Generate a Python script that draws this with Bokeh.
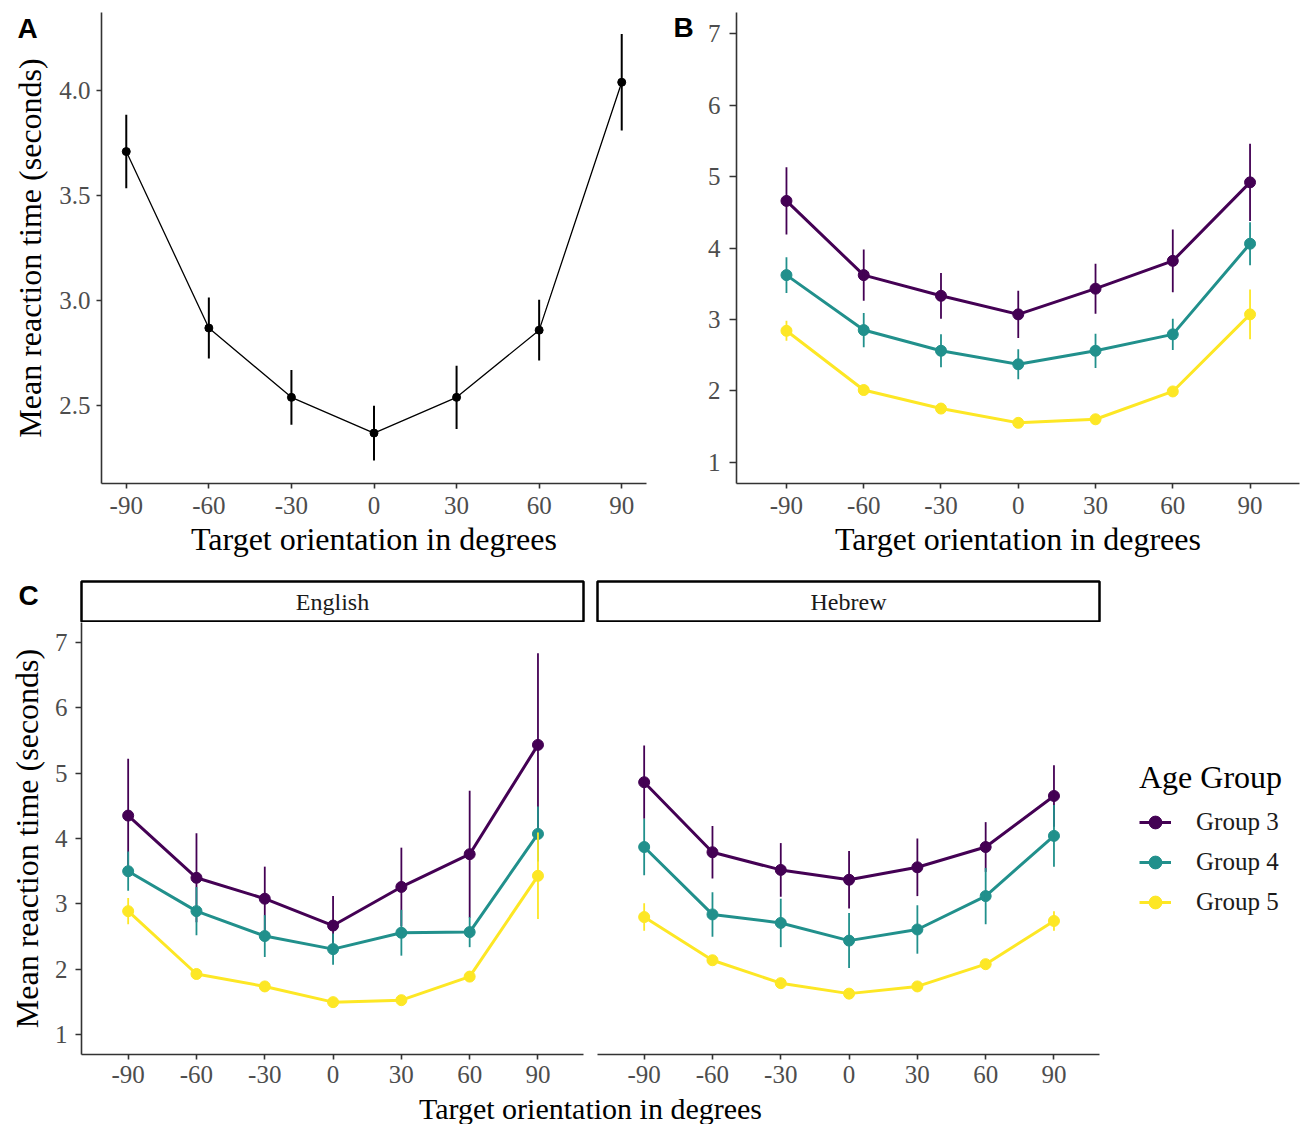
import numpy as np
from bokeh.plotting import figure
from bokeh.layouts import row, column
from bokeh.models import (Range1d, FixedTicker, NumeralTickFormatter, Label,
                          Legend, LegendItem, ColumnDataSource)
from bokeh.embed import file_html
from bokeh.resources import INLINE

# ---------------- data ----------------
orientations = [-90, -60, -30, 0, 30, 60, 90]
groups = ["Group 3", "Group 4", "Group 5"]
group_colors = ["#440154", "#21908C", "#FDE725"]

a_yticks = [2.5, 3.0, 3.5, 4.0]
bc_yticks = [1, 2, 3, 4, 5, 6, 7]

# Panel A: all participants
a_mean = [3.71, 2.87, 2.54, 2.37, 2.54, 2.86, 4.04]
a_err = [0.175, 0.145, 0.13, 0.13, 0.15, 0.145, 0.23]

# Panel B: by age group
b_g3_mean = [4.66, 3.62, 3.33, 3.07, 3.43, 3.82, 4.92]
b_g3_err = [0.47, 0.36, 0.32, 0.33, 0.35, 0.44, 0.54]
b_g4_mean = [3.62, 2.85, 2.56, 2.37, 2.56, 2.79, 4.06]
b_g4_err = [0.25, 0.24, 0.23, 0.21, 0.24, 0.22, 0.30]
b_g5_mean = [2.84, 2.01, 1.75, 1.55, 1.60, 1.99, 3.07]
b_g5_err = [0.14, 0.05, 0.05, 0.04, 0.04, 0.06, 0.35]

# Panel C: English
en_g3_mean = [4.35, 3.40, 3.08, 2.67, 3.26, 3.76, 5.43]
en_g3_err = [0.87, 0.68, 0.49, 0.45, 0.60, 0.97, 1.40]
en_g4_mean = [3.50, 2.89, 2.51, 2.31, 2.56, 2.57, 4.07]
en_g4_err = [0.30, 0.37, 0.32, 0.24, 0.35, 0.23, 0.42]
en_g5_mean = [2.89, 1.93, 1.74, 1.50, 1.53, 1.89, 3.43]
en_g5_err = [0.20, 0.07, 0.08, 0.05, 0.05, 0.08, 0.66]

# Panel C: Hebrew
he_g3_mean = [4.86, 3.79, 3.52, 3.37, 3.56, 3.87, 4.65]
he_g3_err = [0.56, 0.40, 0.41, 0.44, 0.44, 0.38, 0.47]
he_g4_mean = [3.87, 2.84, 2.71, 2.44, 2.61, 3.12, 4.04]
he_g4_err = [0.43, 0.34, 0.37, 0.42, 0.37, 0.43, 0.47]
he_g5_mean = [2.80, 2.14, 1.79, 1.63, 1.74, 2.08, 2.74]
he_g5_err = [0.21, 0.05, 0.06, 0.04, 0.05, 0.07, 0.15]

x_title = "Target orientation in degrees"
y_title = "Mean reaction time (seconds)"

SERIF = "Liberation Serif"
SANS = "Liberation Sans"
AX = "#333333"
TICKLAB = "#4d4d4d"


def make_src(mean, err):
    m = np.array(mean, dtype=float)
    e = np.array(err, dtype=float)
    return ColumnDataSource(dict(x=orientations, y=m, lo=m - e, hi=m + e))


def blank_fig(width, height):
    f = figure(width=width, height=height, x_range=Range1d(0, 1), y_range=Range1d(0, 1),
               output_backend="svg", toolbar_location=None, tools="",
               x_axis_location=None, y_axis_location=None,
               min_border_left=0, min_border_right=0, min_border_top=0, min_border_bottom=0)
    f.xgrid.visible = False
    f.ygrid.visible = False
    f.outline_line_color = None
    f.background_fill_color = "white"
    f.border_fill_color = "white"
    return f


def base_fig(width, height, xr, yr, mbl, mbr, mbt, mbb, show_y=True):
    p = figure(width=width, height=height, x_range=Range1d(*xr), y_range=Range1d(*yr),
               output_backend="svg", toolbar_location=None, tools="",
               min_border_left=mbl, min_border_right=mbr,
               min_border_top=mbt, min_border_bottom=mbb,
               y_axis_location="left" if show_y else None)
    p.xgrid.visible = False
    p.ygrid.visible = False
    p.outline_line_color = None
    p.background_fill_color = "white"
    p.border_fill_color = "white"
    for ax in p.axis:
        ax.axis_line_color = AX
        ax.axis_line_width = 1.6
        ax.major_tick_line_color = AX
        ax.major_tick_line_width = 1.6
        ax.major_tick_out = 5
        ax.major_tick_in = 0
        ax.minor_tick_line_color = None
        ax.major_label_text_font = SERIF
        ax.major_label_text_font_size = "25px"
        ax.major_label_text_color = TICKLAB
        ax.axis_label_text_font = SERIF
        ax.axis_label_text_font_size = "32px"
        ax.axis_label_text_font_style = "normal"
        ax.axis_label_text_color = "black"
    p.xaxis.ticker = FixedTicker(ticks=orientations)
    p.xaxis.formatter = NumeralTickFormatter(format="0")
    p.xaxis.major_label_standoff = 8
    p.xaxis.axis_label_standoff = 4
    return p


def letter(f, text, x, y):
    f.add_layout(Label(x=x, y=y, x_units="screen", y_units="screen", text=text,
                       text_font=SANS, text_font_style="bold", text_font_size="28px",
                       text_color="black", text_baseline="middle"))


def draw_groups(p, means, errs):
    srcs = [make_src(m, e) for m, e in zip(means, errs)]
    for src, c in zip(srcs, group_colors):
        p.line("x", "y", source=src, line_color=c, line_width=3)
    for src, c in zip(srcs, group_colors):
        p.scatter("x", "y", source=src, size=11, fill_color=c, line_color=c)
        p.segment(x0="x", y0="lo", x1="x", y1="hi", source=src, line_color=c, line_width=1.8)


# ---------------- Row 1 : panels A and B ----------------
# (the blank side figures get their frame aligned with the neighbouring plot: 12..483)
leftA = blank_fig(50, 560)
letter(leftA, "A", 17, 455)
leftA.add_layout(Label(x=29, y=235.5, x_units="screen", y_units="screen", text=y_title,
                       angle=90, angle_units="deg", text_align="center", text_baseline="middle",
                       text_font=SERIF, text_font_size="32px", text_color="black"))

pA = base_fig(614, 560, (-99, 99), (2.13, 4.372), 51, 18, 12, 77)
pA.xaxis.axis_label = x_title
pA.yaxis.ticker = FixedTicker(ticks=a_yticks)
pA.yaxis.formatter = NumeralTickFormatter(format="0.0")
pA.yaxis.major_label_standoff = 6
srcA = make_src(a_mean, a_err)
pA.line("x", "y", source=srcA, line_color="black", line_width=1.3)
pA.segment(x0="x", y0="lo", x1="x", y1="hi", source=srcA, line_color="black", line_width=2)
pA.scatter("x", "y", source=srcA, size=8, fill_color="black", line_color="black")

leftB = blank_fig(36, 560)
letter(leftB, "B", 9, 456)

pB = base_fig(609, 560, (-109.4, 109.2), (0.7, 7.3), 36, 10, 12, 77)
pB.xaxis.axis_label = x_title
pB.yaxis.ticker = FixedTicker(ticks=bc_yticks)
pB.yaxis.formatter = NumeralTickFormatter(format="0")
pB.yaxis.major_tick_out = 7
pB.yaxis.major_label_standoff = 9
draw_groups(pB, [b_g3_mean, b_g4_mean, b_g5_mean], [b_g3_err, b_g4_err, b_g5_err])


# ---------------- Row 2 : panel C ----------------
def strip_fig(width, mbl, mbr, text):
    s = figure(width=width, height=62, x_range=Range1d(0, 1), y_range=Range1d(0, 1),
               output_backend="svg", toolbar_location=None, tools="",
               x_axis_location=None, y_axis_location=None,
               min_border_left=mbl, min_border_right=mbr, min_border_top=21, min_border_bottom=1)
    s.xgrid.visible = False
    s.ygrid.visible = False
    s.outline_line_color = "black"
    s.outline_line_width = 2.5
    s.background_fill_color = "white"
    s.border_fill_color = "white"
    s.add_layout(Label(x=251, y=20, x_units="screen", y_units="screen", text=text,
                       text_align="center", text_baseline="middle", text_font=SERIF,
                       text_font_size="24px", text_color="#1a1a1a"))
    return s


letterC = blank_fig(79, 62)
letter(letterC, "C", 18, 26)
sE = strip_fig(511, 2, 7, "English")
sH = strip_fig(516, 7, 7, "Hebrew")

pE = base_fig(590, 469, (-110.5, 110), (0.7, 7.3), 81, 7, 0, 37)
pE.yaxis.axis_label = y_title
pE.yaxis.ticker = FixedTicker(ticks=bc_yticks)
pE.yaxis.formatter = NumeralTickFormatter(format="0")
pE.yaxis.major_tick_out = 6
pE.yaxis.major_label_standoff = 8
pE.yaxis.axis_label_standoff = 7
pE.xaxis.major_label_standoff = 6
draw_groups(pE, [en_g3_mean, en_g4_mean, en_g5_mean], [en_g3_err, en_g4_err, en_g5_err])

pH = base_fig(516, 469, (-110.5, 110), (0.7, 7.3), 7, 7, 0, 37, show_y=False)
pH.xaxis.major_label_standoff = 6
draw_groups(pH, [he_g3_mean, he_g4_mean, he_g5_mean], [he_g3_err, he_g4_err, he_g5_err])

# shared x title for panel C
tfig = blank_fig(1106, 33)
tfig.add_layout(Label(x=590, y=16.5, x_units="screen", y_units="screen", text=x_title,
                      text_align="center", text_baseline="middle", text_font=SERIF,
                      text_font_size="30px", text_color="black"))

# ---------------- legend ----------------
leg = blank_fig(203, 564)
items = []
for g, c in zip(groups, group_colors):
    rl = leg.line(x=[np.nan], y=[np.nan], line_color=c, line_width=3)
    rp = leg.scatter(x=[np.nan], y=[np.nan], size=11, fill_color=c, line_color=c)
    items.append(LegendItem(label=g, renderers=[rl, rp]))
legend = Legend(items=items, location=(33, 202), title="Age Group",
                title_text_font=SERIF, title_text_font_size="32px",
                title_text_font_style="normal", title_text_color="black",
                title_standoff=6,
                label_text_font=SERIF, label_text_font_size="25px", label_text_color="#1a1a1a",
                glyph_width=32, glyph_height=40, label_height=40, label_standoff=25,
                spacing=0, padding=0, margin=0,
                border_line_color=None, background_fill_alpha=0)
leg.add_layout(legend)

layout = column(row(leftA, pA, leftB, pB),
                row(column(row(letterC, sE, sH), row(pE, pH), tfig), leg))

open("out.html", "w").write(file_html(layout, INLINE))
